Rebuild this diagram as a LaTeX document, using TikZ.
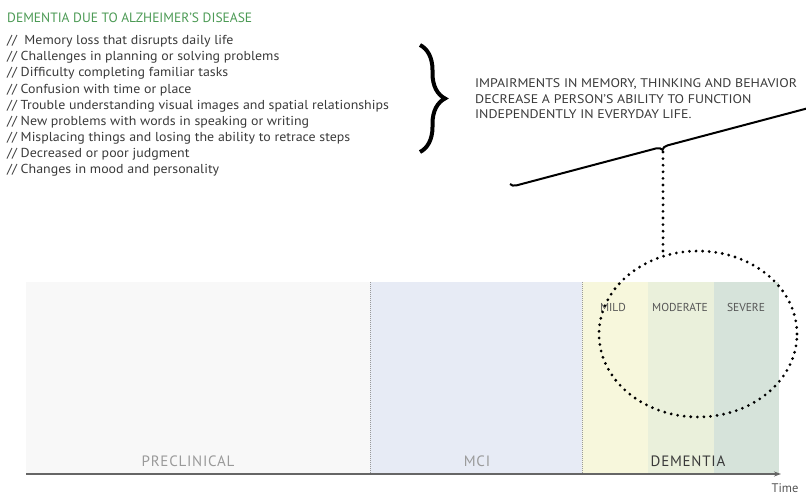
\documentclass[tikz,border=0pt]{standalone}
\usepackage{fontspec}
\setmainfont{PT Sans}
\newfontfamily\listfont[FakeStretch=1.07]{PT Sans}
\newfontfamily\notefont[FakeStretch=1.11]{PT Sans}
\newfontfamily\phasefont[LetterSpace=5]{PT Sans}
\usetikzlibrary{decorations.pathreplacing,shapes.geometric,arrows.meta}

\definecolor{titlegreen}{HTML}{4C9A55}
\definecolor{bodytext}{HTML}{3A3A3A}
\definecolor{labelgray}{HTML}{9A9A9A}
\definecolor{stagegray}{HTML}{555555}
\definecolor{preclinfill}{HTML}{F8F8F8}
\definecolor{mcifill}{HTML}{E7EBF5}
\definecolor{mildfill}{HTML}{F7F7DC}
\definecolor{moderatefill}{HTML}{EAF0DB}
\definecolor{severefill}{HTML}{D6E3DA}
\definecolor{axisgray}{HTML}{666666}

\tikzset{
  txt/.style={inner sep=0pt, anchor=base west},
  listline/.style={txt, text=bodytext, font=\listfont\fontsize{13}{16}\selectfont},
  notetext/.style={txt, text=bodytext, font=\notefont\fontsize{12.5}{15}\selectfont},
  phase/.style={inner sep=0pt, anchor=base, text=labelgray, font=\phasefont\fontsize{15}{18}\selectfont},
  stage/.style={inner sep=0pt, anchor=base, text=stagegray, font=\fontsize{11.5}{14}\selectfont},
  divider/.style={draw=labelgray, line width=0.8pt, dash pattern=on 1pt off 1pt},
  dotline/.style={line width=3.1pt, line cap=round, dash pattern=on 0pt off 6.6pt},
}

\begin{document}
\begin{tikzpicture}[x=1pt, y=-1pt]
\useasboundingbox (0,0) rectangle (806,495);

% heading and symptom list
\node[txt, text=titlegreen, font=\fontsize{13.5}{16}\selectfont] (title) at (7,23)
  {DEMENTIA DUE TO ALZHEIMER’S DISEASE};
\foreach \t [count=\i from 0] in {
  {//~ Memory loss that disrupts daily life},
  {// Challenges in planning or solving problems},
  {// Difficulty completing familiar tasks},
  {// Confusion with time or place},
  {// Trouble understanding visual images and spatial relationships},
  {// New problems with words in speaking or writing},
  {// Misplacing things and losing the ability to retrace steps},
  {// Decreased or poor judgment},
  {// Changes in mood and personality}}
  \node[listline] (item\i) at (7,45+16*\i) {\t};

% large brace gathering the list
\coordinate (bracetop) at (420,45);
\coordinate (bracebot) at (420,152);
\draw[line width=4pt, decorate, decoration={brace, amplitude=25pt}]
  (bracetop) -- (bracebot);

% explanatory note
\node[notetext] (note1) at (475,88) {IMPAIRMENTS IN MEMORY, THINKING AND BEHAVIOR};
\node[notetext] (note2) at (475,103) {DECREASE A PERSON’S ABILITY TO FUNCTION};
\node[notetext] (note3) at (475,118) {INDEPENDENTLY IN EVERYDAY LIFE.};

% timeline bands
\fill[preclinfill] (26,282) rectangle (370,474);
\fill[mcifill] (370,282) rectangle (582,474);
\fill[mildfill] (582,282) rectangle (648,474);
\fill[moderatefill] (648,282) rectangle (714,474);
\fill[severefill] (714,282) rectangle (779,474);
\draw[divider] (370,282) -- (370,474);
\draw[divider] (582,282) -- (582,474);

% phase labels
\node[phase] (preclinical) at (188,466) {PRECLINICAL};
\node[phase] (mci) at (477,466) {MCI};
\node[phase, text=bodytext] (dementia) at (688,466) {DEMENTIA};
\node[stage] (mild) at (613,311) {MILD};
\node[stage] (moderate) at (680,311) {MODERATE};
\node[stage] (severe) at (746,311) {SEVERE};

% time axis
\coordinate (origin) at (26,474);
\coordinate (tend) at (781,474);
\draw[axisgray, line width=1.2pt, -{Stealth[length=7pt, width=5pt]}] (origin) -- (tend);
\node[inner sep=0pt, anchor=base, text=stagegray, font=\fontsize{12.5}{15}\selectfont] (time) at (785,492.5) {Time};

% slanted brace over the dementia period
\coordinate (slantL) at (510,184);
\coordinate (slantR) at (812,104);
\draw[line width=2pt, decorate, decoration={brace, mirror, amplitude=6pt}]
  (slantL) -- (slantR);
\coordinate (tip) at (663,152);

% dotted focus ellipse and its link
\node[draw=none, ellipse, minimum width=198pt, minimum height=166pt] (focus) at (698,334) {};
\draw[dotline] (focus.center) ellipse [x radius=99pt, y radius=83pt];
\draw[dotline] (tip) -- (tip |- focus.114);
\end{tikzpicture}
\end{document}
